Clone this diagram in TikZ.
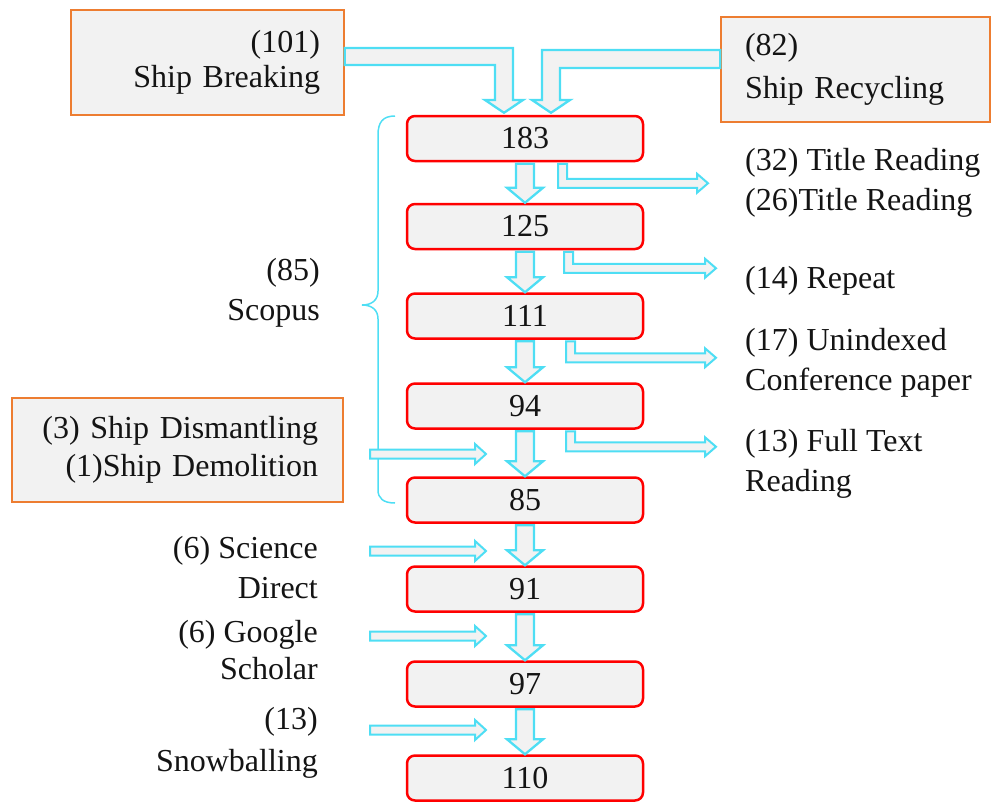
\documentclass[tikz,border=0pt]{standalone}
\usepackage{fontspec}
\setmainfont{Liberation Serif}
\usetikzlibrary{calc}
\definecolor{cy}{RGB}{78,222,244}
\definecolor{boxfill}{RGB}{242,242,242}
\definecolor{orng}{RGB}{237,125,49}
\definecolor{txt}{RGB}{20,20,20}
\tikzset{
  blk/.style={draw=cy, fill=boxfill, line width=2.3pt, line join=miter},
  thinblk/.style={draw=cy, fill=boxfill, line width=2pt, line join=miter},
  numbox/.style={draw=red, fill=boxfill, line width=2.5pt, rounded corners=8pt,
    minimum width=236pt, minimum height=45pt, inner sep=0pt, text=txt,
    font=\fontsize{32}{38}\selectfont},
  srcbox/.style={draw=orng, fill=boxfill, line width=1.5pt, inner ysep=0pt, text=txt},
  lbl/.style={inner sep=0pt, text=txt, font=\fontsize{32}{40}\selectfont},
  brc/.style={draw=cy, line width=1.5pt},
}
\newcommand\blockdown[2]{%
  \draw[blk] ($(#1.south)+(-9,1.5)$) -- ($(#2.north)+(-9,-15)$) -- ($(#2.north)+(-18,-15)$)
    -- ($(#2.north)+(0,0)$) -- ($(#2.north)+(18,-15)$) -- ($(#2.north)+(9,-15)$)
    -- ($(#1.south)+(9,1.5)$) -- cycle;}
\newcommand\sidearrow[4]{%
  \draw[thinblk] ($(#1.south)+(#2,1.5)$) -- ($(#1.south)+(#2,#3+4.5)$) -- ($(#1.south)+(#4-11,#3+4.5)$)
    -- ($(#1.south)+(#4-11,#3+9.5)$) -- ($(#1.south)+(#4,#3)$) -- ($(#1.south)+(#4-11,#3-9.5)$)
    -- ($(#1.south)+(#4-11,#3-4.5)$) -- ($(#1.south)+(#2+9,#3-4.5)$) -- ($(#1.south)+(#2+9,1.5)$) -- cycle;}
\newcommand\harrow[2]{%
  \draw[thinblk] ($(#1)+(0,-4.5)$) -- ($(#1)+(#2-11,-4.5)$) -- ($(#1)+(#2-11,-10)$) -- ($(#1)+(#2,0)$)
    -- ($(#1)+(#2-11,10)$) -- ($(#1)+(#2-11,4.5)$) -- ($(#1)+(0,4.5)$) -- cycle;}
\begin{document}
\begin{tikzpicture}[x=1pt, y=-1pt]
\useasboundingbox (0,0) rectangle (991,801);
% source boxes
\node[srcbox, minimum width=273pt, minimum height=105pt, text width=225pt, inner xsep=24pt,
  align=right, font=\fontsize{32}{35}\selectfont] (sb) at (207.5,62.5) {(101)\\Ship Breaking};
\node[srcbox, minimum width=269pt, minimum height=105pt, text width=221pt, inner xsep=24pt,
  align=left, font=\fontsize{32}{43}\selectfont] (sr) at (855.5,69.5) {(82)\\Ship Recycling};
\node[srcbox, minimum width=331pt, minimum height=104pt, text width=281pt, inner xsep=25pt,
  align=right, font=\fontsize{32}{38}\selectfont] (sd) at (177.5,450) {(3) Ship Dismantling\\(1)Ship Demolition};
% number boxes
\node[numbox] (b183) at (525,138.5) {183};
\node[numbox] (b125) at (525,226.5) {125};
\node[numbox] (b111) at (525,316) {111};
\node[numbox] (b94)  at (525,406) {94};
\node[numbox] (b85)  at (525,500) {85};
\node[numbox] (b91)  at (525,589) {91};
\node[numbox] (b97)  at (525,684) {97};
\node[numbox] (b110) at (525,778) {110};
% top arrows
\draw[blk] (sb.east |- 0,48) -- (513,48) -- (513,100) -- (523,100) -- ($(b183.north)+(-21,-2)$)
  -- (485,100) -- (495,100) -- (495,65) -- (sb.east |- 0,65) -- cycle;
\draw[blk] (sr.west |- 0,50) -- (542,50) -- (542,100) -- (532,100) -- ($(b183.north)+(26,-2)$)
  -- (570,100) -- (560,100) -- (560,68) -- (sr.west |- 0,68) -- cycle;
% down arrows
\blockdown{b183}{b125}
\blockdown{b125}{b111}
\blockdown{b111}{b94}
\blockdown{b94}{b85}
\blockdown{b85}{b91}
\blockdown{b91}{b97}
\blockdown{b97}{b110}
% side arrows
\sidearrow{b183}{33}{21}{183}
\sidearrow{b125}{39}{18}{191}
\sidearrow{b111}{41}{18}{191}
\sidearrow{b94}{41}{17}{191}
% right labels
\node[lbl, anchor=west, align=left] (r1) at (745,183) {(32) Title Reading\\(26)Title Reading};
\node[lbl, anchor=west] (r2) at (745,281) {(14) Repeat};
\node[lbl, anchor=west, align=left] (r3) at (745,362.5) {(17) Unindexed\\Conference paper};
\node[lbl, anchor=west, align=left] (r4) at (745,463.5) {(13) Full Text\\Reading};
% brace
\draw[brc] (395,116) .. controls (383,116) and (378,122) .. (378,135) -- (378,291)
  .. controls (378,300) and (372,305) .. (362,305) .. controls (372,305) and (378,310) .. (378,319)
  -- (378,490) .. controls (378,498) and (383,503) .. (395,503);
\node[lbl, anchor=east, align=right] (scop) at (320,292.5) {(85)\\Scopus};
% left labels
\node[lbl, anchor=east, align=right] (l1) at (318,568) {(6) Science\\Direct};
\node[lbl, anchor=east, align=right, font=\fontsize{32}{37}\selectfont] (l2) at (318,650.5) {(6) Google\\Scholar};
\node[lbl, anchor=east, align=right, font=\fontsize{32}{42}\selectfont] (l3) at (318,743) {(13)\\Snowballing};
% left arrows
\coordinate (a1) at (370,454);
\coordinate (a2) at (370,551);
\coordinate (a3) at (370,636);
\coordinate (a4) at (370,730);
\harrow{a1}{116}
\harrow{a2}{116}
\harrow{a3}{116}
\harrow{a4}{116}
\end{tikzpicture}
\end{document}
